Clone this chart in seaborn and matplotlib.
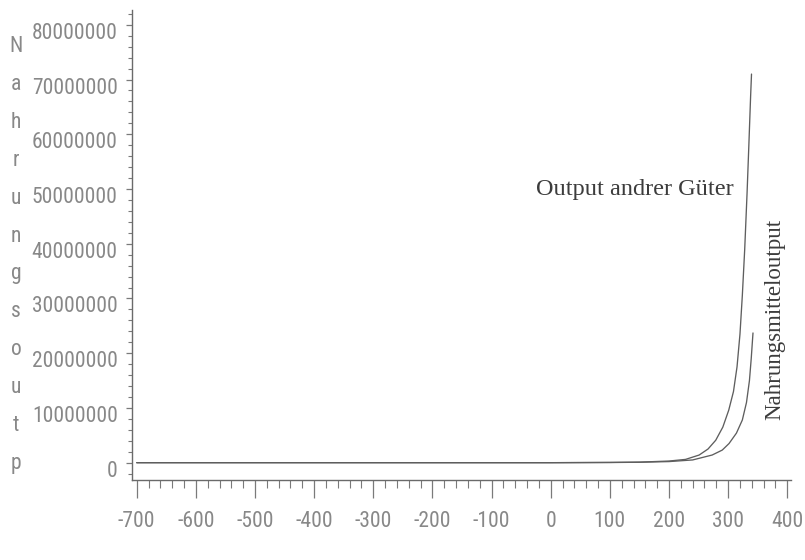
import numpy as np
import pandas as pd
import matplotlib
matplotlib.use("Agg")
import matplotlib.pyplot as plt
import matplotlib.transforms as mtransforms
from matplotlib import font_manager as fm
from matplotlib.ticker import MultipleLocator, FuncFormatter
import seaborn as sns

# ---- data ----
x_other = [-700, -600, -500, -400, -300, -200, -100, 0, 100, 150, 200, 228, 251, 266,
           279, 291, 301, 309, 315, 320, 324, 328, 332, 335, 338, 339.5]
y_other = [0, 0, 0, 0, 0, 0, 0, 0, 0.05e6, 0.1e6, 0.3e6, 0.6e6, 1.4e6, 2.5e6,
           4.1e6, 6.5e6, 9.6e6, 13.0e6, 17.5e6, 23.5e6, 30.6e6, 39.0e6, 49.3e6, 58.0e6,
           67.0e6, 71.0e6]

x_food = [-700, -600, -500, -400, -300, -200, -100, 0, 100, 150, 200, 240, 273, 290,
          301.5, 314, 324, 331, 336, 339, 342]
y_food = [0, 0, 0, 0, 0, 0, 0, 0, 0.03e6, 0.08e6, 0.2e6, 0.5e6, 1.4e6, 2.3e6,
          3.5e6, 5.4e6, 7.8e6, 11.0e6, 15.0e6, 19.0e6, 23.7e6]

series_names = ["Output andrer Güter", "Nahrungsmitteloutput"]
ylabel_text = "Nahrungsoutp"
x_ticks = [-700, -600, -500, -400, -300, -200, -100, 0, 100, 200, 300, 400]
y_ticks = [0, 10000000, 20000000, 30000000, 40000000, 50000000, 60000000, 70000000, 80000000]

df = pd.concat([
    pd.DataFrame({"x": x_other, "y": y_other, "series": series_names[0]}),
    pd.DataFrame({"x": x_food, "y": y_food, "series": series_names[1]}),
], ignore_index=True)

sns.set_theme(style="white")


def pick_narrow():
    for fam in ["Liberation Sans Narrow", "Roboto Condensed", "Open Sans Condensed"]:
        try:
            fm.findfont(fm.FontProperties(family=fam), fallback_to_default=False)
            return fam, "normal"
        except Exception:
            pass
    try:
        p = fm.findfont(fm.FontProperties(family="DejaVu Sans", stretch="condensed"),
                        fallback_to_default=False)
        if "Condensed" in p:
            return "DejaVu Sans", "condensed"
    except Exception:
        pass
    return "Liberation Sans", "normal"


narrow_fam, narrow_stretch = pick_narrow()
narrow = [narrow_fam, "DejaVu Sans"]
serif = ["Liberation Serif", "DejaVu Serif"]

fig = plt.figure(figsize=(8.05, 5.6), dpi=100)
ax = fig.add_axes([0.1636, 0.1429, 0.8194, 0.8392])

line_col = "#5e5e5e"
sns.lineplot(data=df, x="x", y="y", hue="series", units="series", estimator=None,
             palette={series_names[0]: line_col, series_names[1]: line_col},
             linewidth=0.95, legend=False, sort=False, ax=ax)

ax.set_xlim(-708.5, 406.8)
ax.set_ylim(-3.16e6, 82.7e6)

for s in ["top", "right"]:
    ax.spines[s].set_visible(False)
for s in ["left", "bottom"]:
    ax.spines[s].set_color("#6a6a6a")
    ax.spines[s].set_linewidth(1.0)

ax.set_xticks(x_ticks)
ax.set_yticks(y_ticks)
ax.xaxis.set_minor_locator(MultipleLocator(20))
ax.yaxis.set_minor_locator(MultipleLocator(2000000))
ax.yaxis.set_major_formatter(FuncFormatter(lambda v, p: f"{int(round(v))}"))
ax.xaxis.set_major_formatter(FuncFormatter(lambda v, p: f"{int(round(v))}"))

tick_col = "#7a7a7a"
lab_col = "#888888"
fs_tick = 15.5
ax.tick_params(axis="x", which="major", direction="out", length=13, width=0.9,
               color=tick_col, pad=9, labelsize=fs_tick, labelcolor=lab_col,
               bottom=True)
ax.tick_params(axis="x", which="minor", direction="out", length=6, width=0.8,
               color=tick_col, bottom=True)
ax.tick_params(axis="y", which="major", direction="out", length=4, width=0.9,
               color=tick_col, pad=6, labelsize=fs_tick, labelcolor=lab_col, left=True)
ax.tick_params(axis="y", which="minor", direction="out", length=3, width=0.8,
               color=tick_col, left=True)

for lab in ax.get_xticklabels() + ax.get_yticklabels():
    lab.set_family(narrow)
    lab.set_fontstretch(narrow_stretch)

offset = mtransforms.ScaledTranslation(0, -6 / 100, fig.dpi_scale_trans)
for lab in ax.get_yticklabels():
    lab.set_transform(lab.get_transform() + offset)

ax.set_xlabel("")
ax.set_ylabel("\n".join(ylabel_text), rotation=0, family=narrow, fontsize=fs_tick,
              fontstretch=narrow_stretch, color=lab_col, linespacing=2.06,
              va="center", ha="center")
ax.yaxis.set_label_coords(16 / 805, 1 - 255 / 560, transform=fig.transFigure)

ax.text(143, 48.9e6, series_names[0], family=serif, fontsize=17.5, color="#3c3c3c",
        ha="center", va="baseline")
ax.text(379.5, 26.2e6, series_names[1], family=serif, fontsize=16.5, color="#3c3c3c",
        ha="center", va="center", rotation=90)

fig.savefig("out.png", dpi=100, facecolor="white")
